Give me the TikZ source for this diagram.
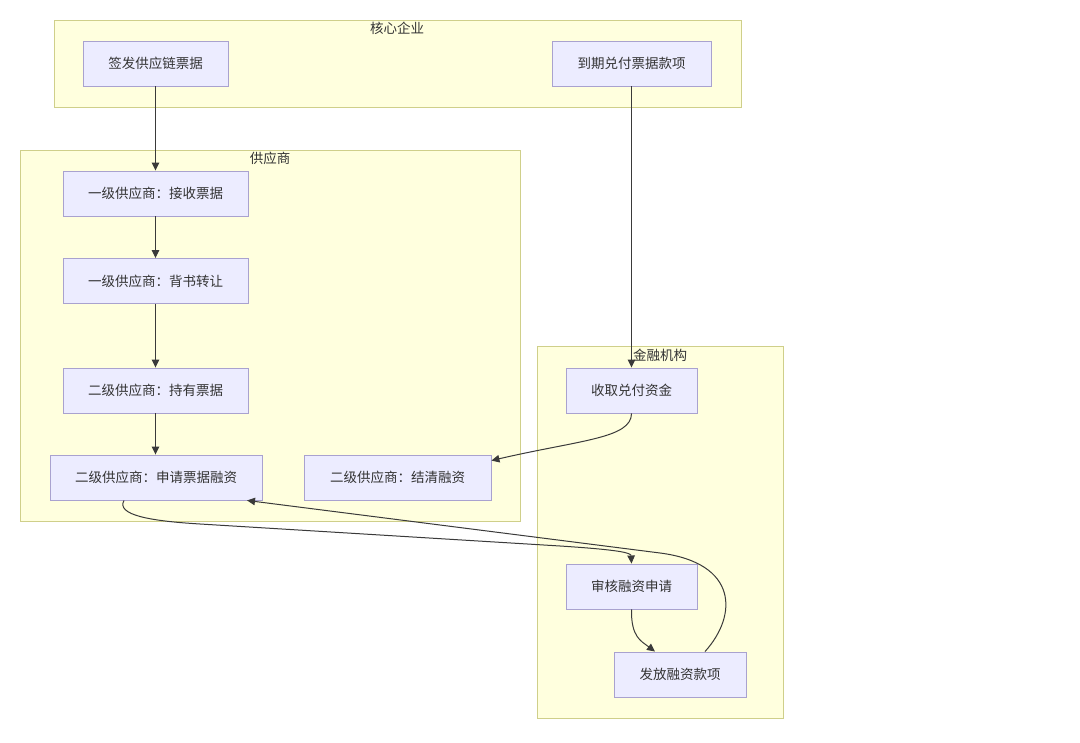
\documentclass[tikz,border=0pt]{standalone}
\usepackage{fontspec}
\setmainfont{Noto Sans CJK SC}
\usetikzlibrary{arrows.meta,calc}
\definecolor{clfill}{HTML}{FFFFDE}
\definecolor{clline}{HTML}{CFCF8A}
\definecolor{ndfill}{HTML}{ECECFF}
\definecolor{ndline}{HTML}{A9A2CF}
\definecolor{txt}{HTML}{333333}
\definecolor{edge}{HTML}{3A3A3A}
\begin{document}
\begin{tikzpicture}[x=1pt,y=-1pt,
  cluster/.style={draw=clline,fill=clfill,line width=0.9pt},
  cltitle/.style={text=txt,font=\fontsize{13.5}{15}\selectfont,inner sep=0pt},
  box/.style={draw=ndline,fill=ndfill,line width=0.9pt,text=txt,font=\fontsize{13.5}{15}\selectfont,inner sep=0pt,minimum height=45pt},
  arr/.style={draw=edge,line width=1pt,-{Triangle[length=8pt,width=7.5pt]}}]
\useasboundingbox (0,0) rectangle (1080,743);
\fill[white] (0,0) rectangle (1080,743);
% clusters
\draw[cluster] (54,20) rectangle (741,107);
\node[cltitle] (t1) at (397,28) {核心企业};
\draw[cluster] (20,150) rectangle (520,521);
\node[cltitle] (t2) at (270,158) {供应商};
\draw[cluster] (537,346) rectangle (783,718);
\node[cltitle] (t3) at (660,355) {金融机构};
% nodes
\node[box,minimum width=145pt] (qf) at (155.5,63.5) {签发供应链票据};
\node[box,minimum width=159pt] (dq) at (631.5,63.5) {到期兑付票据款项};
\node[box,minimum width=185pt] (js) at (155.5,193.5) {一级供应商：接收票据};
\node[box,minimum width=185pt] (bs) at (155.5,281) {一级供应商：背书转让};
\node[box,minimum width=185pt] (cy) at (155.5,390.5) {二级供应商：持有票据};
\node[box,minimum width=212pt] (sq) at (156,477.5) {二级供应商：申请票据融资};
\node[box,minimum width=187pt] (jq) at (397.5,477.5) {二级供应商：结清融资};
\node[box,minimum width=131pt] (sh) at (631.5,390.5) {收取兑付资金};
\node[box,minimum width=131pt] (hs) at (631.5,586.5) {审核融资申请};
\node[box,minimum width=132pt] (ff) at (680,674.5) {发放融资款项};
% edges
\draw[arr] (qf.south) -- (js.north);
\draw[arr] (js.south) -- (bs.north);
\draw[arr] (bs.south) -- (cy.north);
\draw[arr] (cy.south) -- (cy.south |- sq.north);
\draw[arr] (dq.south) -- (sh.north);
\draw[arr] (sh.south) .. controls ($(sh.south)+(0,25)$) and (580,440) .. ($(jq.north east)+(0,6)$);
\draw[arr] ($(sq.south)+(-32,0)$) .. controls (116,515) and (150,521) .. (200,524) -- (560,546) .. controls (622,550) and (631,553) .. (hs.north);
\draw[arr] (hs.south) .. controls (631,637) and (641,641) .. ($(ff.north)+(-25,0)$);
\draw[arr] ($(ff.north)+(25,0)$) .. controls (738,615) and (738,563) .. (660,553) -- ($(sq.south)+(91,0)$);
\end{tikzpicture}
\end{document}
